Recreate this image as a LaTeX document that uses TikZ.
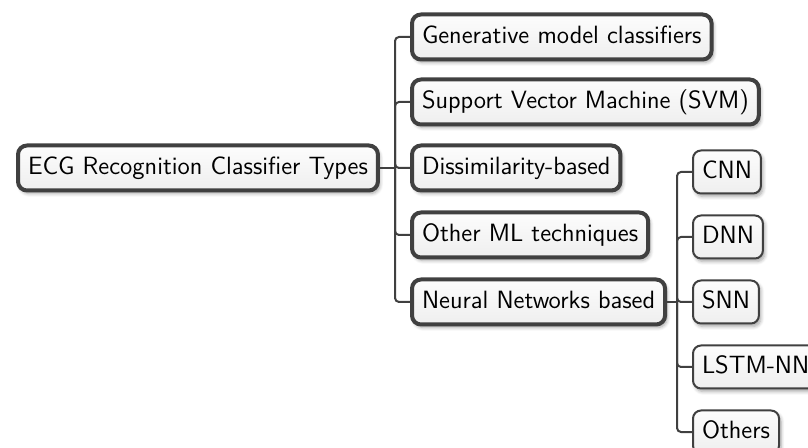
\documentclass[tikz,border=0pt]{standalone}
\usetikzlibrary{shadows.blur}
\definecolor{edgegray}{HTML}{404040}
\begin{document}
\begin{tikzpicture}[x=0.5pt,y=-0.5pt,
  base/.style={font=\sffamily\fontsize{12.5}{14}\selectfont, draw=edgegray,
    top color=gray!2, bottom color=gray!13, text=black,
    text height=8.8pt, text depth=2.7pt, inner xsep=5pt, inner ysep=0pt,
    blur shadow={shadow xshift=1pt, shadow yshift=-1.5pt, shadow opacity=35, shadow blur steps=6}},
  lvlA/.style={base, line width=2pt, rounded corners=4.5pt, minimum height=22.5pt},
  lvlB/.style={base, line width=1pt, rounded corners=4pt, minimum height=21.5pt, inner xsep=4.5pt},
  conn/.style={draw=edgegray, line width=1pt, rounded corners=2pt}]
\clip (0,0) rectangle (808,448);
\node[lvlA, anchor=west] (root) at (16,168) {ECG Recognition Classifier Types};
\coordinate (j1) at (395,168);
\node[lvlA, anchor=west] (gen) at (410,37) {Generative model classifiers};
\node[lvlA, anchor=west] (svm) at (410,102) {Support Vector Machine (SVM)};
\node[lvlA, anchor=west] (dis) at (410,168) {Dissimilarity-based};
\node[lvlA, anchor=west] (oth) at (410,235) {Other ML techniques};
\node[lvlA, anchor=west] (nn) at (410,302) {Neural Networks based};
\coordinate (j2) at (677,302);
\node[lvlB, anchor=west] (cnn) at (692,172) {CNN};
\node[lvlB, anchor=west] (dnn) at (692,237) {DNN};
\node[lvlB, anchor=west] (snn) at (692,302) {SNN};
\node[lvlB, anchor=west] (lstm) at (692,367) {LSTM-NN};
\node[lvlB, anchor=west] (others) at (692,432) {Others};
\draw[conn] (root.east) -- (j1);
\foreach \c in {gen,svm,dis,oth,nn} \draw[conn] (j1) |- (\c.west);
\draw[conn] (nn.east) -- (j2);
\foreach \c in {cnn,dnn,snn,lstm,others} \draw[conn] (j2) |- (\c.west);
\end{tikzpicture}
\end{document}
